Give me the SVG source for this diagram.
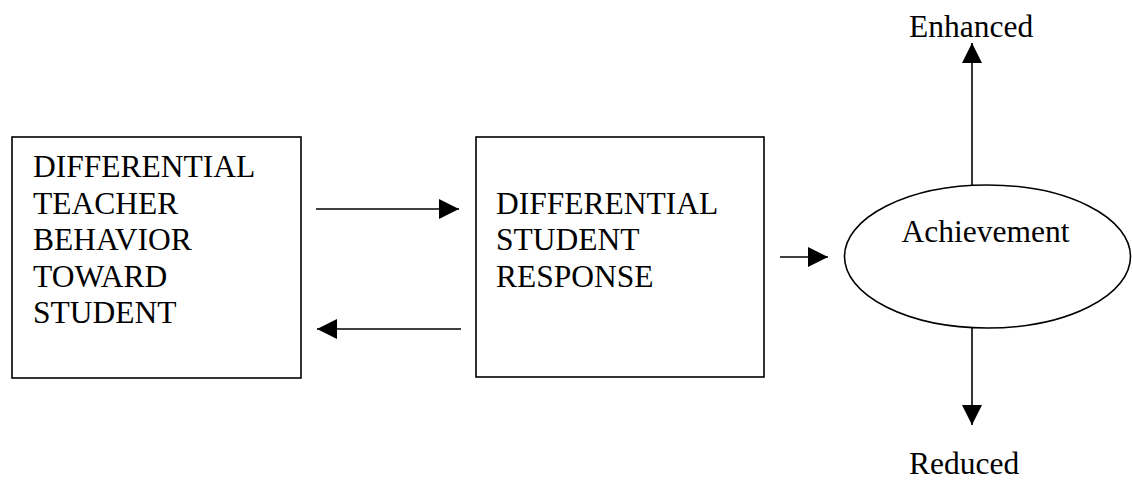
<svg xmlns="http://www.w3.org/2000/svg" width="1132" height="481" viewBox="0 0 1132 481">
<style>
.box{fill:#fff;stroke:#000;stroke-width:1.6}
.t{font-family:"Liberation Serif","Times New Roman",serif;font-size:31.5px;fill:#000}
.c{stroke:#000;stroke-width:1.6;fill:none}
</style>
<defs>
<marker id="ah" viewBox="0 0 20 20" refX="20" refY="10" markerWidth="20" markerHeight="20" markerUnits="userSpaceOnUse" orient="auto">
<path d="M0,0 L20,10 L0,20 z" fill="#000"/>
</marker>
</defs>
<rect width="1132" height="481" fill="#fff"/>
<g id="teacher">
<rect class="box" x="12" y="137" width="289" height="241"/>
<text class="t" x="33" y="177">DIFFERENTIAL</text>
<text class="t" x="33" y="213.5">TEACHER</text>
<text class="t" x="33" y="250">BEHAVIOR</text>
<text class="t" x="33" y="286.5">TOWARD</text>
<text class="t" x="33" y="323">STUDENT</text>
</g>
<g id="student">
<rect class="box" x="476" y="137" width="288" height="240"/>
<text class="t" x="496" y="213.5">DIFFERENTIAL</text>
<text class="t" x="496" y="250">STUDENT</text>
<text class="t" x="496" y="286.5">RESPONSE</text>
</g>
<g id="achievement">
<ellipse class="box" cx="987.5" cy="256.5" rx="143" ry="71.5"/>
<text class="t" x="985.5" y="242" text-anchor="middle">Achievement</text>
</g>
<g id="enhanced">
<text class="t" x="909" y="37">Enhanced</text>
</g>
<g id="reduced">
<text class="t" x="909" y="474">Reduced</text>
</g>
<g id="connectors">
<line class="c" x1="316" y1="209" x2="459" y2="209" marker-end="url(#ah)"/>
<line class="c" x1="461" y1="329" x2="317" y2="329" marker-end="url(#ah)"/>
<line class="c" x1="780" y1="257" x2="828" y2="257" marker-end="url(#ah)"/>
<line class="c" x1="972" y1="185" x2="972" y2="43" marker-end="url(#ah)"/>
<line class="c" x1="972" y1="328" x2="972" y2="425" marker-end="url(#ah)"/>
</g>
</svg>
